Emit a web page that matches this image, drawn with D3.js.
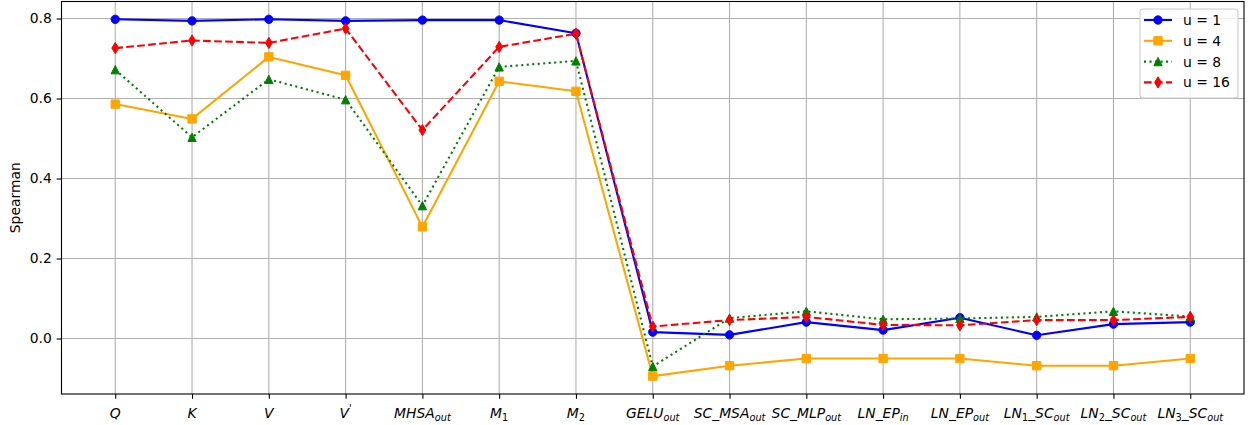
<!DOCTYPE html>
<html>
<head>
<meta charset="utf-8">
<script src="https://cdn.jsdelivr.net/npm/d3@7"></script>
<style>
  html, body { margin: 0; padding: 0; background: #fff; }
  svg { display: block; }
  text { font-family: "DejaVu Sans", sans-serif; }
</style>
</head>
<body>
<svg id="chart" width="1248" height="425"></svg>
<script>
// ---- data ----
const categories = ["Q", "K", "V", "V^{'}", "MHSA_{out}", "M_{1}", "M_{2}", "GELU_{out}",
  "SC\\_MSA_{out}", "SC\\_MLP_{out}", "LN\\_EP_{in}", "LN\\_EP_{out}",
  "LN_{1}\\_SC_{out}", "LN_{2}\\_SC_{out}", "LN_{3}\\_SC_{out}"];
const seriesNames = ["u = 1", "u = 4", "u = 8", "u = 16"];
const u1 = [0.798, 0.794, 0.798, 0.794, 0.796, 0.796, 0.763, 0.016, 0.009, 0.041, 0.021, 0.052, 0.008, 0.036, 0.041];
const u4 = [0.586, 0.549, 0.704, 0.658, 0.279, 0.643, 0.618, -0.094, -0.068, -0.050, -0.050, -0.050, -0.068, -0.068, -0.050];
const u8 = [0.672, 0.503, 0.648, 0.597, 0.332, 0.679, 0.694, -0.070, 0.051, 0.068, 0.048, 0.050, 0.054, 0.068, 0.055];
const u16 = [0.726, 0.745, 0.739, 0.775, 0.521, 0.729, 0.762, 0.030, 0.046, 0.054, 0.034, 0.033, 0.046, 0.046, 0.054];
const yTicks = [0.0, 0.2, 0.4, 0.6, 0.8];
const yLabel = "Spearman";

// ---- layout ----
const svg = d3.select("#chart");
const L = 61.5, R = 1244, T = 1.5, B = 394;
const fs = 13.9;
const x = d3.scaleLinear().domain([-0.7, categories.length - 1 + 0.7]).range([L, R]);
const y = d3.scaleLinear().domain([-0.13875, 0.8425]).range([B, T]);

// grid
const grid = svg.append("g");
categories.forEach((c, i) => {
  grid.append("line").attr("x1", x(i)).attr("x2", x(i)).attr("y1", T).attr("y2", B)
    .attr("stroke", "#b0b0b0").attr("stroke-width", 1.1);
});
yTicks.forEach(t => {
  grid.append("line").attr("x1", L).attr("x2", R).attr("y1", y(t)).attr("y2", y(t))
    .attr("stroke", "#b0b0b0").attr("stroke-width", 1.1);
});

// axes via d3
const xAxis = d3.axisBottom(x).tickValues(d3.range(categories.length)).tickSize(4.86).tickPadding(4.86).tickFormat("");
const gx = svg.append("g").attr("transform", `translate(0,${B})`).call(xAxis);
gx.select(".domain").remove();
gx.selectAll(".tick line").attr("stroke", "#000").attr("stroke-width", 1.1);

const yAxis = d3.axisLeft(y).tickValues(yTicks).tickSize(4.86).tickPadding(4.86).tickFormat(d3.format(".1f"));
const gy = svg.append("g").attr("transform", `translate(${L},0)`).call(yAxis);
gy.select(".domain").remove();
gy.selectAll(".tick line").attr("stroke", "#000").attr("stroke-width", 1.1);
gy.selectAll(".tick text").attr("font-size", fs).attr("font-family", "DejaVu Sans").attr("fill", "#000");

// x tick labels with mathtext-like rendering
function parseMath(s) {
  const parts = [];
  let i = 0, buf = "";
  const flush = (mode) => { if (buf) { parts.push({ t: buf, mode: mode || "base" }); buf = ""; } };
  while (i < s.length) {
    if (s[i] === "\\" && s[i + 1] === "_") { buf += "_"; i += 2; continue; }
    if ((s[i] === "_" || s[i] === "^") && s[i + 1] === "{") {
      flush("base");
      const mode = s[i] === "_" ? "sub" : "sup";
      const end = s.indexOf("}", i);
      parts.push({ t: s.slice(i + 2, end), mode });
      i = end + 1; continue;
    }
    buf += s[i]; i++;
  }
  flush("base");
  return parts;
}
categories.forEach((c, i) => {
  const txt = svg.append("text").attr("x", x(i)).attr("y", 418).attr("text-anchor", "middle")
    .attr("font-size", fs).attr("font-style", "italic").attr("fill", "#000");
  let cur = 0;
  parseMath(c).forEach(p => {
    // split digits (upright) from letters
    const chunks = p.t.match(/(\d+|[^\d]+)/g);
    chunks.forEach((ch, k) => {
      const ts = txt.append("tspan").text(ch);
      if (/^\d+$/.test(ch) || ch === "'") ts.attr("font-style", "normal");
      let target = 0, size = fs;
      if (p.mode === "sub") { target = 3.2; size = fs * 0.7; }
      if (p.mode === "sup") { target = -6; size = fs * 0.7; }
      ts.attr("font-size", size);
      if (k === 0 && target !== cur) { ts.attr("dy", target - cur); cur = target; }
    });
  });
});

// y label
svg.append("text").attr("transform", `translate(20,${(T + B) / 2}) rotate(-90)`)
  .attr("text-anchor", "middle").attr("font-size", fs).attr("fill", "#000").text(yLabel);

// series
const symD = d3.symbol();
const series = [
  { name: seriesNames[0], vals: u1, color: "blue", dash: null, marker: "circle" },
  { name: seriesNames[1], vals: u4, color: "orange", dash: null, marker: "square" },
  { name: seriesNames[2], vals: u8, color: "green", dash: "2.08,3.43", marker: "triangle" },
  { name: seriesNames[3], vals: u16, color: "red", dash: "7.7,3.33", marker: "diamond" }
];
function markerPath(type) {
  const r = 4.17;
  if (type === "circle") return d3.symbol(d3.symbolCircle, Math.PI * r * r)();
  if (type === "square") return `M${-r},${-r}H${r}V${r}H${-r}Z`;
  if (type === "triangle") return `M0,${-r}L${r},${r}L${-r},${r}Z`;
  if (type === "diamond") { const h = 5.6, w = 3.4; return `M0,${-h}L${w},0L0,${h}L${-w},0Z`; }
}
const line = d3.line().x((d, i) => x(i)).y(d => y(d));
const clip = svg.append("clipPath").attr("id", "clip").append("rect")
  .attr("x", L).attr("y", T).attr("width", R - L).attr("height", B - T);
series.forEach(s => {
  const g = svg.append("g").attr("clip-path", "url(#clip)");
  g.append("path").attr("d", line(s.vals)).attr("fill", "none").attr("stroke", s.color)
    .attr("stroke-width", 2.08).attr("stroke-dasharray", s.dash).attr("stroke-linejoin", "round");
  g.selectAll("path.m").data(s.vals).join("path").attr("class", "m")
    .attr("transform", (d, i) => `translate(${x(i)},${y(d)})`)
    .attr("d", markerPath(s.marker)).attr("fill", s.color).attr("stroke", s.color).attr("stroke-width", 1);
});

// spines
svg.append("rect").attr("x", L).attr("y", T).attr("width", R - L).attr("height", B - T)
  .attr("fill", "none").attr("stroke", "#000").attr("stroke-width", 1.1);

// legend
const lg = svg.append("g");
lg.append("rect").attr("x", 1140).attr("y", 9).attr("width", 98).attr("height", 89).attr("rx", 3)
  .attr("fill", "#fff").attr("fill-opacity", 0.8).attr("stroke", "#cccccc").attr("stroke-width", 1.1);
series.forEach((s, k) => {
  const cy = 20 + k * 20.8;
  lg.append("line").attr("x1", 1144).attr("x2", 1172).attr("y1", cy).attr("y2", cy)
    .attr("stroke", s.color).attr("stroke-width", 2.08).attr("stroke-dasharray", s.dash);
  lg.append("path").attr("transform", `translate(1158,${cy})`).attr("d", markerPath(s.marker))
    .attr("fill", s.color).attr("stroke", s.color).attr("stroke-width", 1);
  lg.append("text").attr("x", 1183).attr("y", cy + 5).attr("font-size", fs).attr("fill", "#000").text(s.name);
});
</script>
</body>
</html>
